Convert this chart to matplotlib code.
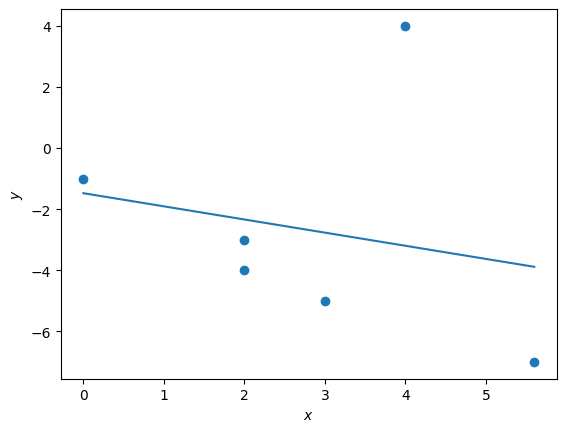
import numpy as np
import matplotlib
matplotlib.use("Agg")
import matplotlib.pyplot as plt

# data points
x = [0, 2, 2, 3, 4, 5.6]
y = [-1, -3, -4, -5, 4, -7]

# least squares line
slope, intercept = np.polyfit(x, y, 1)
xs = np.array([min(x), max(x)])

fig, ax = plt.subplots(figsize=(6.4, 4.8))
ax.scatter(x, y)
ax.plot(xs, slope * xs + intercept)
ax.set_xlabel("$x$")
ax.set_ylabel("$y$")

fig.savefig("out.png", bbox_inches="tight")
